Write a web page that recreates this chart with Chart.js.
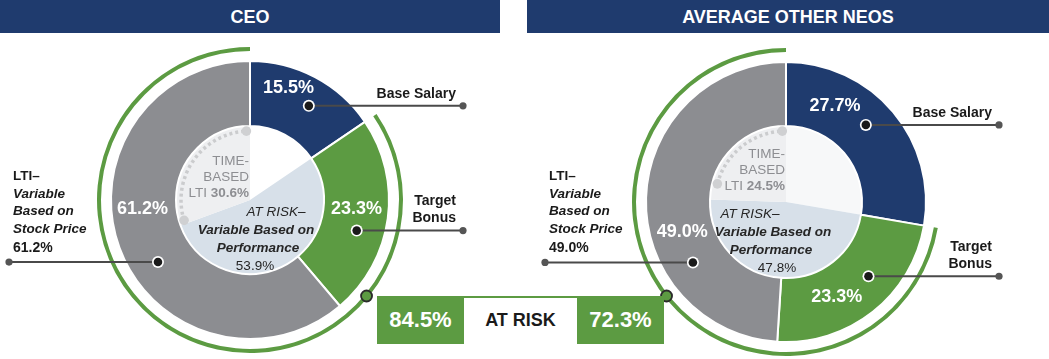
<!DOCTYPE html>
<html><head><meta charset="utf-8">
<script src="https://cdn.jsdelivr.net/npm/chart.js@4.4.0/dist/chart.umd.min.js"></script>
<style>
html,body{margin:0;padding:0;width:1049px;height:359px;overflow:hidden;background:#fff;font-family:"Liberation Sans",Arial,sans-serif;}
.bar{position:absolute;top:0;height:33px;background:#1f3b6e;color:#fff;font-weight:bold;font-size:18px;line-height:34px;text-align:center;}
canvas{position:absolute;top:0;}
.box{position:absolute;top:296px;height:48px;width:87px;background:#5c9b42;color:#fff;font-weight:bold;font-size:22px;line-height:48px;text-align:center;z-index:3;}
.topline{position:absolute;top:296px;height:2px;left:377px;width:287px;background:#5c9b42;z-index:3;}
.mid{position:absolute;top:298px;height:46px;left:464px;width:113px;background:#fff;color:#1a1a1a;font-weight:bold;font-size:18px;line-height:44px;text-align:center;z-index:3;}
</style>
</head><body>
<div class="bar" style="left:0;width:500px;">CEO</div>
<div class="bar" style="left:527px;width:522px;">AVERAGE OTHER NEOS</div>
<canvas id="c1" width="500" height="400" style="left:0px;"></canvas>
<canvas id="c2" width="526" height="404" style="left:523px;"></canvas>
<div class="topline"></div>
<div class="box" style="left:377px;" id="riskL"></div>
<div class="mid">AT RISK</div>
<div class="box" style="left:577px;" id="riskR"></div>
<script>
// ---- data ----
const sliceLabels = ['Base Salary', 'Target Bonus', 'LTI– Variable Based on Stock Price'];
const ceoValues = [15.5, 23.3, 61.2];
const neoValues = [27.7, 23.3, 49.0];
const innerLabels = ['Base Salary', 'AT RISK– Variable Based on Performance', 'TIME-BASED LTI'];
const ceoInner = [15.5, 53.9, 30.6];
const neoInner = [27.7, 47.8, 24.5];
const atRisk = [84.5, 72.3];
const panelTitles = ['CEO', 'AVERAGE OTHER NEOS'];

const NAVY = '#1f3b6e', GREEN = '#5c9b42', GRAY = '#8c8d91';
const LBLUE = '#d7e0e9', LGRAY = '#eeeff1';
const FONT = '"Liberation Sans", Arial, sans-serif';
const fmt = v => v.toFixed(1) + '%';

document.getElementById('riskL').textContent = fmt(atRisk[0]);
document.getElementById('riskR').textContent = fmt(atRisk[1]);

const sides = [
  { id: 'c1', values: ceoValues, inner: ceoInner, risk: atRisk[0], radius: 153, weights: [4, 10, 65, 74],
    innerTop: '#ffffff', pctAngles: [19, 95, 265], pctR: [118, 107, 108],
    dotAngles: [32, 106, 236], dotR: 111, boxSide: 1,
    timeDy: -39, riskDx: [26, 6, 8, 5], dotArcExtra: 3 },
  { id: 'c2', values: neoValues, inner: neoInner, risk: atRisk[1], radius: 154, weights: [4, 10, 64, 76],
    innerTop: '#f7f8f9', pctAngles: [27, 152, 254], pctR: [108, 108, 108],
    dotAngles: [46, 132, 237], dotR: 111, boxSide: -1,
    timeDy: -48, riskDx: [-36, -13, -15, -9], dotArcExtra: 13 }
];

const toDeg = r => (r + Math.PI / 2) * 180 / Math.PI;
const toRad = a => (a - 90) * Math.PI / 180;
function polar(cx, cy, r, a) { const t = toRad(a); return [cx + r * Math.cos(t), cy + r * Math.sin(t)]; }
function txt(ctx, s, x, y, font, color, align) {
  ctx.font = font; ctx.fillStyle = color; ctx.textAlign = align || 'center'; ctx.textBaseline = 'middle';
  ctx.fillText(s, x, y);
}
function dot(ctx, x, y) {
  ctx.beginPath(); ctx.arc(x, y, 6, 0, Math.PI * 2); ctx.fillStyle = '#fff'; ctx.fill();
  ctx.beginPath(); ctx.arc(x, y, 4.3, 0, Math.PI * 2); ctx.fillStyle = '#1a1a1a'; ctx.fill();
}
function endDot(ctx, x, y) {
  ctx.beginPath(); ctx.arc(x, y, 3.6, 0, Math.PI * 2); ctx.fillStyle = '#555'; ctx.fill();
}

const annot = {
  id: 'annot',
  afterDatasetsDraw(chart) {
    const s = chart.options.plugins.annot.side;
    const ctx = chart.ctx;
    const main = chart.getDatasetMeta(2).data;
    const ring = chart.getDatasetMeta(0).data[1];
    const innerMeta = chart.getDatasetMeta(3).data;
    const cx = main[0].x, cy = main[0].y;
    ctx.save();
    // dotted arc on the time-based LTI section
    const inR = innerMeta[2].outerRadius - 5;
    const tStart = toDeg(innerMeta[2].startAngle) + s.dotArcExtra;
    const tEnd = 357;
    ctx.beginPath();
    ctx.arc(cx, cy, inR, toRad(tStart), toRad(tEnd));
    ctx.setLineDash([3, 3]); ctx.lineWidth = 3.5; ctx.strokeStyle = '#cbccce'; ctx.stroke();
    ctx.setLineDash([]);
    [tStart, tEnd].forEach(a => { const p = polar(cx, cy, inR, a); ctx.beginPath(); ctx.arc(p[0], p[1], 4.8, 0, Math.PI * 2); ctx.fillStyle = '#cfd0d2'; ctx.fill(); });

    // percentage labels in main ring
    s.values.forEach((v, i) => {
      const p = polar(cx, cy, s.pctR[i], s.pctAngles[i]);
      txt(ctx, fmt(v), p[0], p[1], 'bold 18px ' + FONT, '#fff');
    });

    // inner texts
    const tc = '#8d8e92';
    const tx = cx - 1, ty = cy + s.timeDy;
    txt(ctx, 'TIME-', tx, ty, '13.5px ' + FONT, tc, 'right');
    txt(ctx, 'BASED', tx, ty + 16, '13.5px ' + FONT, tc, 'right');
    ctx.font = 'bold 13.5px ' + FONT;
    const bw = ctx.measureText(fmt(s.inner[2])).width;
    txt(ctx, fmt(s.inner[2]), tx, ty + 32, 'bold 13.5px ' + FONT, tc, 'right');
    txt(ctx, 'LTI ', tx - bw, ty + 32, '13.5px ' + FONT, tc, 'right');
    const dk = '#262626';
    txt(ctx, 'AT RISK–', cx + s.riskDx[0], cy + 12, 'italic 13.5px ' + FONT, dk);
    txt(ctx, 'Variable Based on', cx + s.riskDx[1], cy + 30, 'italic bold 13.5px ' + FONT, dk);
    txt(ctx, 'Performance', cx + s.riskDx[2], cy + 48, 'italic bold 13.5px ' + FONT, dk);
    txt(ctx, fmt(s.inner[1]), cx + s.riskDx[3], cy + 66, '13.5px ' + FONT, dk);

    // leader lines
    const rightEnd = cx + 213, leftEnd = cx - 241;
    ctx.lineWidth = 2; ctx.strokeStyle = '#4a4a4a';
    s.dotAngles.forEach((a, i) => {
      const p = polar(cx, cy, s.dotR, a);
      const ex = i < 2 ? rightEnd : leftEnd;
      ctx.beginPath(); ctx.moveTo(p[0], p[1]); ctx.lineTo(ex, p[1]); ctx.stroke();
      endDot(ctx, ex, p[1]);
      dot(ctx, p[0], p[1]);
      if (i === 0) {
        txt(ctx, 'Base Salary', rightEnd - 7, p[1] - 12, 'bold 14px ' + FONT, '#1a1a1a', 'right');
      } else if (i === 1) {
        txt(ctx, 'Target', rightEnd - 7, p[1] - 29, 'bold 14px ' + FONT, '#1a1a1a', 'right');
        txt(ctx, 'Bonus', rightEnd - 7, p[1] - 12, 'bold 14px ' + FONT, '#1a1a1a', 'right');
      } else {
        const lx = leftEnd + 4;
        txt(ctx, 'LTI–', lx, p[1] - 86, 'bold 13.5px ' + FONT, '#1a1a1a', 'left');
        txt(ctx, 'Variable', lx, p[1] - 68, 'italic bold 13.5px ' + FONT, '#1a1a1a', 'left');
        txt(ctx, 'Based on', lx, p[1] - 51, 'italic bold 13.5px ' + FONT, '#1a1a1a', 'left');
        txt(ctx, 'Stock Price', lx, p[1] - 33, 'italic bold 13.5px ' + FONT, '#1a1a1a', 'left');
        txt(ctx, fmt(s.values[2]), lx, p[1] - 14, 'bold 14px ' + FONT, '#1a1a1a', 'left');
      }
    });

    // marker where the at-risk ring meets the box top line
    const rr = (ring.outerRadius + ring.innerRadius) / 2;
    const boxTopCanvas = 296 - chart.canvas.getBoundingClientRect().top;
    const dy = boxTopCanvas - cy;
    const mx = cx + s.boxSide * Math.sqrt(rr * rr - dy * dy);
    ctx.beginPath(); ctx.arc(mx, boxTopCanvas, 5.5, 0, Math.PI * 2);
    ctx.fillStyle = GREEN; ctx.fill(); ctx.lineWidth = 1.8; ctx.strokeStyle = '#2b2b2b'; ctx.stroke();
    ctx.restore();
  }
};

sides.forEach(s => {
  new Chart(document.getElementById(s.id), {
    type: 'doughnut',
    data: {
      labels: sliceLabels,
      datasets: [
        { label: 'At risk', data: [100 - s.risk, s.risk], backgroundColor: ['rgba(0,0,0,0)', GREEN], borderWidth: 0, weight: s.weights[0] },
        { label: 'gap', data: [1], backgroundColor: ['rgba(0,0,0,0)'], borderWidth: 0, weight: s.weights[1] },
        { label: 'Pay mix', data: s.values, backgroundColor: [NAVY, GREEN, GRAY], borderColor: '#fff', borderWidth: 2, weight: s.weights[2] },
        { label: 'Inner', data: s.inner, backgroundColor: [s.innerTop, LBLUE, LGRAY], borderWidth: 0, weight: s.weights[3] }
      ]
    },
    options: {
      responsive: false, animation: false, events: [],
      radius: s.radius, cutout: 0, rotation: 0,
      layout: { padding: 0 },
      plugins: { legend: { display: false }, tooltip: { enabled: false }, annot: { side: s } }
    },
    plugins: [annot]
  });
});
</script>
</body></html>
